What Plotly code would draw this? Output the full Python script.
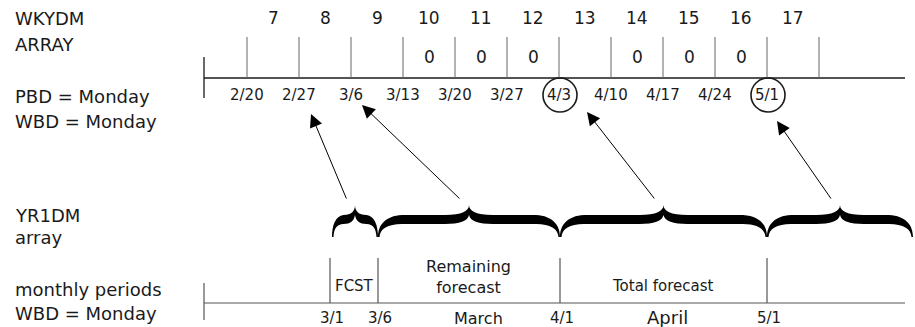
import plotly.graph_objects as go

# --- diagram content -------------------------------------------------------
week_nums = [7, 8, 9, 10, 11, 12, 13, 14, 15, 16, 17]
week_dates = ["2/20", "2/27", "3/6", "3/13", "3/20", "3/27", "4/3", "4/10", "4/17", "4/24", "5/1"]
zero_weeks = [10, 11, 12, 14, 15, 16]
circled_dates = ["4/3", "5/1"]

month_marks = ["3/1", "3/6", "4/1", "5/1"]
month_mark_x = [330, 378, 560, 767]
month_names = ["March", "April"]
period_labels = ["FCST", "Remaining<br>forecast", "Total forecast"]

# braces on the YR1DM row: (left, right) edges, arrow goes to a week date
brace_edges = [(332, 378), (378, 560), (560, 767), (767, 913)]
arrow_targets = ["2/27", "3/6", "4/3", "5/1"]

left_labels_top = ["WKYDM", "ARRAY", "PBD = Monday", "WBD = Monday"]
left_labels_bottom = ["YR1DM", "array", "monthly periods", "WBD = Monday"]

FONT = "DejaVu Sans"
INK = "#1a1a1a"

# --- layout helpers ----------------------------------------------------------
X0, STEP = 247, 52
tick_x = [X0 + STEP * i for i in range(len(week_nums) + 1)]
date_x = dict(zip(week_dates, tick_x))
week_x = {w: tick_x[i] + STEP / 2 for i, w in enumerate(week_nums)}

TOP_AXIS_Y, BOT_AXIS_Y = 78, 303


def brace_path(xa, xb):
    xm = (xa + xb) / 2
    h = min(24, (xm - xa) * 0.5)
    yt, y1, y2, ye = 205, 215, 224, 237
    return (
        f"M {xa},{ye} C {xa},{ye-12} {xa+h*0.3},{y1+1} {xa+h},{y1} "
        f"L {xm-h},{y1} C {xm-h*0.3},{y1} {xm},{y1-4} {xm},{yt} "
        f"C {xm},{y1-4} {xm+h*0.3},{y1} {xm+h},{y1} "
        f"L {xb-h},{y1} C {xb-h*0.3},{y1+1} {xb},{ye-12} {xb},{ye} "
        f"L {xb-1.5},{ye} C {xb-2},{ye-8} {xb-h*0.4},{y2} {xb-h},{y2} "
        f"L {xm+h},{y2} C {xm+h*0.4},{y2} {xm+1},{y2-3} {xm},{yt+10} "
        f"C {xm-1},{y2-3} {xm-h*0.4},{y2} {xm-h},{y2} "
        f"L {xa+h},{y2} C {xa+h*0.4},{y2} {xa+2},{ye-8} {xa+1.5},{ye} Z"
    )


shapes = []
annotations = []


def line(x0, y0, x1, y1, color=INK, width=1):
    shapes.append(dict(type="line", xref="x", yref="y", x0=x0, y0=y0, x1=x1, y1=y1,
                       line=dict(color=color, width=width)))


def label(x, y, text, size=16, xanchor="center"):
    annotations.append(dict(x=x, y=y, xref="x", yref="y", text=text, showarrow=False,
                            xanchor=xanchor, yanchor="middle",
                            font=dict(family=FONT, size=size, color=INK)))


# top axis
line(204, TOP_AXIS_Y, 905, TOP_AXIS_Y, width=1.3)
line(204, 57, 204, 98, width=1.3)
for x in tick_x:
    line(x, 37, x, TOP_AXIS_Y, color="#666666")
for w in week_nums:
    label(week_x[w], 18, str(w), 17)
    if w in zero_weeks:
        label(week_x[w], 57, "0", 17)
for d in week_dates:
    label(date_x[d], 95, d, 15)
for d in circled_dates:
    x = date_x[d] + 1
    shapes.append(dict(type="circle", xref="x", yref="y", x0=x - 17, x1=x + 17, y0=78, y1=112,
                       line=dict(color=INK, width=1.6)))

# bottom axis
line(204, BOT_AXIS_Y, 905, BOT_AXIS_Y, color="#555555", width=1.2)
line(204, 283, 204, 320, color="#555555", width=1.2)
for m, x in zip(month_marks, month_mark_x):
    line(x, 258, x, BOT_AXIS_Y, color="#555555", width=1.2)
    label(x + 2, 318, m, 15)
label(478, 318, month_names[0], 16)
label(667, 317, month_names[1], 18)
label(354, 286, period_labels[0], 15)
label(468, 277, period_labels[1], 16)
label(663, 286, period_labels[2], 15)

# braces and arrows
arrow_tip_offset = {"2/27": (12, 36), "3/6": (11, 27), "4/3": (28, 34), "5/1": (10, 43)}
for (xa, xb), tgt in zip(brace_edges, arrow_targets):
    shapes.append(dict(type="path", xref="x", yref="y", path=brace_path(xa, xb),
                       fillcolor="black", line=dict(width=0)))
    xm = (xa + xb) / 2
    dx, dy = arrow_tip_offset[tgt]
    annotations.append(dict(x=date_x[tgt] + dx, y=TOP_AXIS_Y + dy, xref="x", yref="y",
                            ax=xm - 8, ay=200, axref="x", ayref="y", text="",
                            showarrow=True, arrowhead=2, arrowsize=2.6, arrowwidth=1,
                            arrowcolor="black", standoff=0))

# left-hand labels
for text, y in zip(left_labels_top, [18, 44, 96, 121]):
    label(13, y, text, 18, "left")
for text, y in zip(left_labels_bottom, [215, 237, 289, 313]):
    label(13, y, text, 18, "left")

fig = go.Figure()
fig.update_layout(
    width=915, height=327,
    margin=dict(l=0, r=0, t=0, b=0),
    paper_bgcolor="white", plot_bgcolor="white",
    xaxis=dict(range=[0, 915], visible=False, fixedrange=True),
    yaxis=dict(range=[327, 0], visible=False, fixedrange=True),
    shapes=shapes, annotations=annotations, showlegend=False,
)
fig.write_html(
    "out.html",
    config={"displayModeBar": False},
    post_script="document.body.style.margin='0';document.body.style.overflow='hidden';",
)
